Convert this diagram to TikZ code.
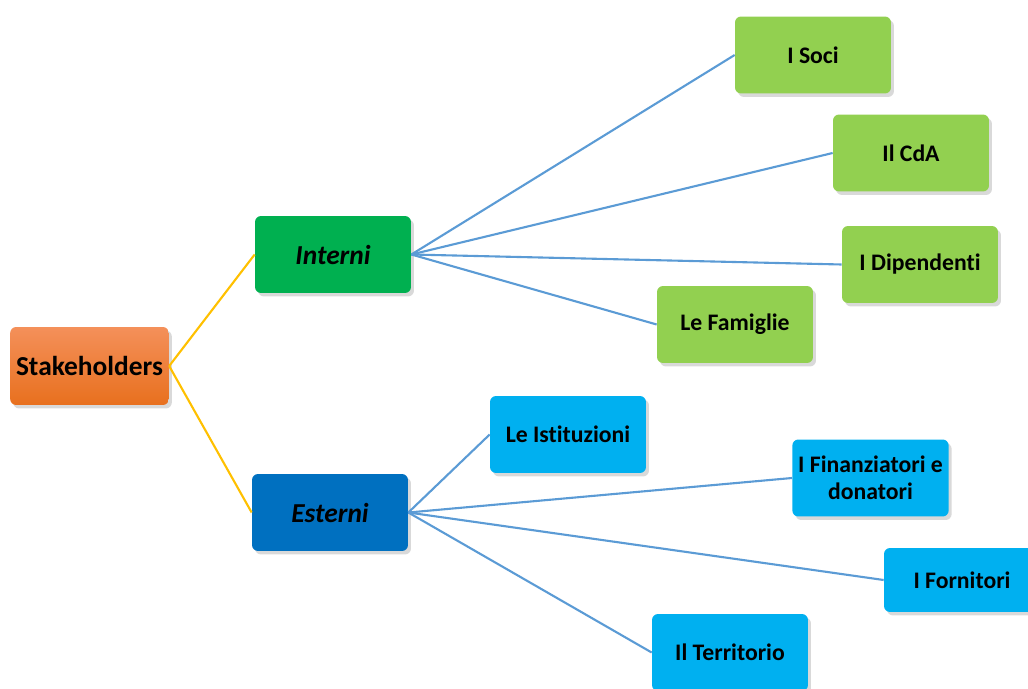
\documentclass[tikz,border=0pt]{standalone}
\usepackage{fontspec}
\setmainfont{Carlito}[Ligatures=NoCommon]
\usetikzlibrary{shadows}

\definecolor{rootA}{HTML}{F4905A}
\definecolor{rootB}{HTML}{E8701E}
\definecolor{intgreen}{HTML}{00B050}
\definecolor{extblue}{HTML}{0070C0}
\definecolor{leafgreen}{HTML}{92D050}
\definecolor{leafblue}{HTML}{00B0F0}
\definecolor{linkblue}{HTML}{5B9BD5}
\definecolor{linkgold}{HTML}{FFC000}

\tikzset{
    box/.style={rounded corners=0.12cm, minimum width=3.12cm, minimum height=1.54cm,
        align=center, font=\fontsize{13.5}{15.5}\selectfont\bfseries,
        drop shadow={shadow xshift=0.06cm, shadow yshift=-0.07cm, opacity=0.3}},
    bigbox/.style={box, font=\fontsize{15.6}{18}\selectfont\bfseries},
    leafint/.style={box, fill=leafgreen},
    leafext/.style={box, fill=leafblue},
    linkmain/.style={linkgold, line width=1.2pt},
    linkleaf/.style={linkblue, line width=1.2pt},
}

\begin{document}
\begin{tikzpicture}[x=0.02cm, y=-0.02cm]
        \useasboundingbox (0,0) rectangle (1028,689);
        \clip (0,0) rectangle (1028,689);

        % Root and the two groups
        \node[bigbox, top color=rootA, bottom color=rootB, minimum height=1.56cm] (root) at (89.5,366) {Stakeholders};
        \node[bigbox, fill=intgreen] (int) at (333,254.5) {\itshape Interni};
        \node[bigbox, fill=extblue] (ext) at (330,512.5) {\itshape Esterni};

        % Internal stakeholders
        \node[leafint] (soci) at (813,55) {I Soci};
        \node[leafint] (cda) at (911,153) {Il CdA};
        \node[leafint] (dip) at (920,264.5) {I Dipendenti};
        \node[leafint] (fam) at (735,324.5) {Le Famiglie};

        % External stakeholders
        \node[leafext] (ist) at (568,434.5) {Le Istituzioni};
        \node[leafext] (fin) at (870.5,478) {I Finanziatori e\\donatori};
        \node[leafext, minimum height=1.28cm] (forn) at (962,580) {I Fornitori};
        \node[leafext] (terr) at (730,652.5) {Il Territorio};

        \draw[linkmain] (root.east) -- (int.west);
        \draw[linkmain] (root.east) -- (ext.west);

        \foreach \leaf in {soci,cda,dip,fam}
            \draw[linkleaf] (int.east) -- (\leaf.west);
        \foreach \leaf in {ist,fin,forn,terr}
            \draw[linkleaf] (ext.east) -- (\leaf.west);
    \end{tikzpicture}
\end{document}
